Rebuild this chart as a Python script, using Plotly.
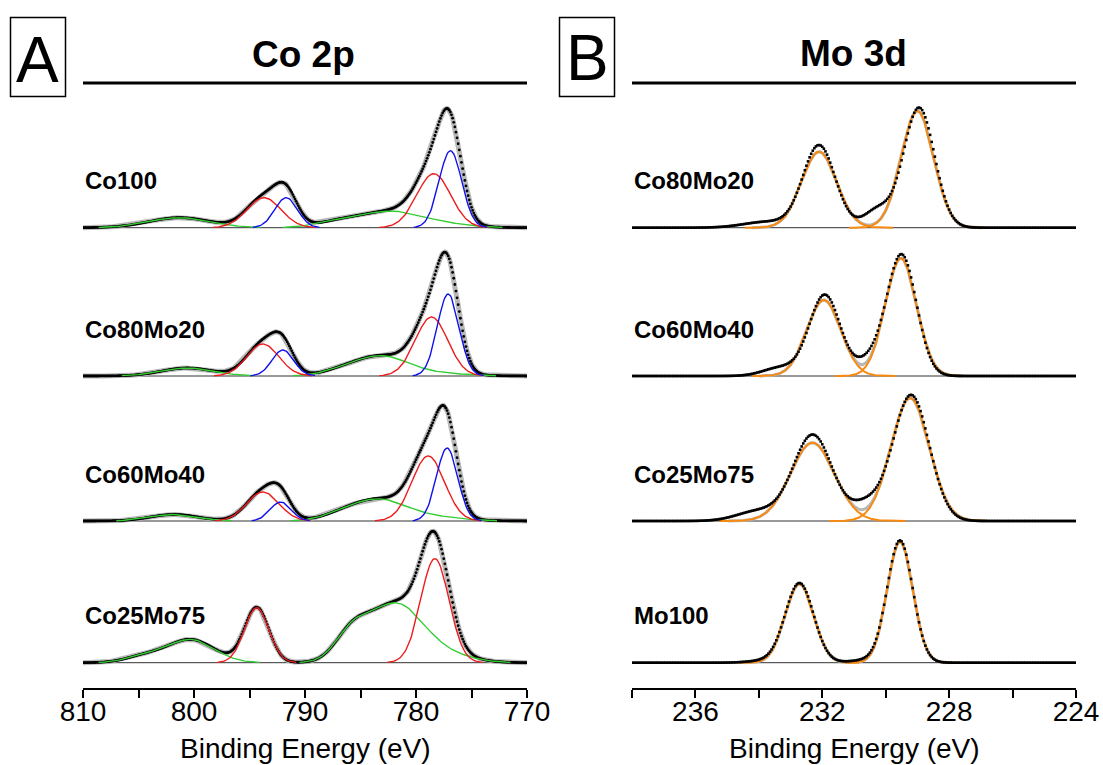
import numpy as np
import plotly.graph_objects as go

W, H = 1103, 765

# ---------------- data ----------------
# Co 2p fits: each peak = (binding energy eV, height a.u., FWHM eV)
co_labels = ["Co100", "Co80Mo20", "Co60Mo40", "Co25Mo75"]
co_red = [
    [(778.4, 54, 3.6), (793.7, 30, 3.6)],
    [(778.6, 59, 3.45), (793.8, 32, 3.4)],
    [(778.9, 65, 3.45), (793.8, 29, 3.4)],
    [(778.3, 104, 3.0), (794.35, 55, 2.6)],
]
co_blue = [
    [(776.9, 77, 2.4), (791.7, 30, 2.4)],
    [(777.1, 82, 2.3), (792.0, 26, 2.3)],
    [(777.2, 73, 2.25), (792.2, 19, 2.2)],
    [],
]
co_green_2p32 = [
    [(782.3, 15, 6.0), (786.8, 6, 5.0), (778.0, 4, 6.0)],
    [(783.0, 19, 5.5), (786.5, 5, 4.5), (778.0, 2.5, 6.0)],
    [(783.2, 20, 5.5), (786.5, 6, 4.5), (778.5, 4, 6.0)],
    [(781.8, 59, 6.0), (785.8, 24, 3.5), (776.5, 5, 5.0)],
]
co_green_2p12 = [
    [(801.3, 10, 6.5)],
    [(800.6, 8, 5.5)],
    [(801.8, 6.5, 5.0)],
    [(800.3, 23, 5.0), (804.5, 6, 4.0)],
]

# Mo 3d: fitted doublet (orange) and measured spectrum shape
mo_labels = ["Co80Mo20", "Co60Mo40", "Co25Mo75", "Mo100"]
mo_fit = [
    [(229.0, 116.7, 1.2), (232.1, 76, 1.3)],
    [(229.52, 117.7, 1.16), (231.95, 76, 1.26)],
    [(229.23, 123, 1.42), (232.31, 78.3, 1.63)],
    [(229.55, 121, 0.95), (232.72, 78.7, 1.05)],
]
mo_measured = [
    [(228.95, 120, 1.15), (232.1, 82, 1.2), (230.25, 18, 1.0), (233.7, 6, 1.8)],
    [(229.5, 121, 1.1), (231.92, 81, 1.15), (230.5, 14, 1.0), (233.3, 8.5, 1.3)],
    [(229.2, 126, 1.35), (232.3, 86, 1.45), (230.6, 16, 1.1), (234.0, 10, 1.6)],
    [(229.55, 122, 0.95), (232.72, 79.5, 1.05), (230.6, 2.5, 1.2), (233.8, 2, 1.2)],
]

co_range = [810, 770]
mo_range = [238, 224]

# ---------------- layout helpers ----------------
offsets = [460.3, 312, 167, 25.3]   # vertical stacking (px above axis)
FONT = "Liberation Sans, Arial, sans-serif"
C_RED, C_BLUE, C_GREEN = "#ee1c1c", "#1010ee", "#33cc33"
C_GRAY, C_ORANGE = "#b8b8b8", "#f98a10"


def gauss(x, peaks):
    y = np.zeros_like(x)
    for c, h, w in peaks:
        y = y + h * np.exp(-4 * np.log(2) * ((x - c) / w) ** 2)
    return y


fig = go.Figure()

# ---------------- Panel A: Co 2p ----------------
xa = np.arange(770, 810.0001, 0.1)
for i in range(4):
    off = offsets[i]
    red = [gauss(xa, [p]) for p in co_red[i]]
    blue = [gauss(xa, [p]) for p in co_blue[i]]
    g32 = gauss(xa, co_green_2p32[i])
    g12 = gauss(xa, co_green_2p12[i])
    env = g32 + g12 + sum(red) + (sum(blue) if blue else 0)
    fig.add_trace(go.Scatter(x=[810, 770], y=[off, off], mode="lines",
                             line=dict(color="#333333", width=1), xaxis="x", yaxis="y",
                             hoverinfo="skip", showlegend=False))
    fig.add_trace(go.Scatter(x=xa, y=env + off, mode="lines",
                             line=dict(color=C_GRAY, width=5), xaxis="x", yaxis="y",
                             showlegend=False))
    fig.add_trace(go.Scatter(x=xa, y=env + off, mode="markers",
                             marker=dict(color="black", size=2.8), xaxis="x", yaxis="y",
                             showlegend=False))
    comps = [(g32, C_GREEN), (g12, C_GREEN)] + [(r, C_RED) for r in red] + [(b, C_BLUE) for b in blue]
    for comp, col in comps:
        m = comp > 0.3
        fig.add_trace(go.Scatter(x=xa[m], y=comp[m] + off, mode="lines",
                                 line=dict(color=col, width=1.4), xaxis="x", yaxis="y",
                                 showlegend=False))

# ---------------- Panel B: Mo 3d ----------------
xb = np.arange(224, 238.0001, 0.05)
xf = np.arange(224, 238.0001, 0.01)
for i in range(4):
    off = offsets[i]
    env = gauss(xf, mo_fit[i])
    meas = gauss(xb, mo_measured[i])
    fig.add_trace(go.Scatter(x=[238, 224], y=[off, off], mode="lines",
                             line=dict(color="#333333", width=1), xaxis="x2", yaxis="y2",
                             hoverinfo="skip", showlegend=False))
    m_env = env > 0.05
    fig.add_trace(go.Scatter(x=xf[m_env], y=env[m_env] + off, mode="lines",
                             line=dict(color=C_GRAY, width=3), xaxis="x2", yaxis="y2",
                             showlegend=False))
    for p in mo_fit[i]:
        c, h, w = p
        m = np.abs(xf - c) <= 1.8 * w
        comp = gauss(xf[m], [p])
        fig.add_trace(go.Scatter(x=xf[m], y=comp + off, mode="lines",
                                 line=dict(color=C_ORANGE, width=2), xaxis="x2", yaxis="y2",
                                 showlegend=False))
    fig.add_trace(go.Scatter(x=xb, y=meas + off, mode="markers",
                             marker=dict(symbol="square", size=2.6, color="black",
                                         line=dict(width=0)),
                             xaxis="x2", yaxis="y2", showlegend=False))


def px_x(p):
    return p / W


def px_y(p):
    return 1 - p / H


axis_common = dict(showline=True, linewidth=2, linecolor="black", ticks="outside",
                   ticklen=8, tickwidth=2, tickcolor="black", showgrid=False,
                   zeroline=False, automargin=False, ticklabelstandoff=-11,
                   tickfont=dict(family=FONT, size=28, color="black"))

fig.update_layout(
    width=W, height=H, margin=dict(l=0, r=0, t=0, b=0),
    paper_bgcolor="white", plot_bgcolor="white",
    xaxis=dict(domain=[px_x(83), px_x(527)], range=co_range, anchor="y",
               tick0=770, dtick=10,
               minor=dict(dtick=5, ticks="outside", ticklen=8, tickwidth=2, tickcolor="black"),
               **axis_common),
    yaxis=dict(domain=[77 / H, 1], range=[0, 688], visible=False, anchor="x"),
    xaxis2=dict(domain=[px_x(632), px_x(1076)], range=mo_range, anchor="y2",
                tick0=224, dtick=4,
                minor=dict(dtick=2, ticks="outside", ticklen=8, tickwidth=2, tickcolor="black"),
                **axis_common),
    yaxis2=dict(domain=[77 / H, 1], range=[0, 688], visible=False, anchor="x2"),
    showlegend=False,
)

shapes = []
for x0, x1 in [(83, 527), (632, 1076)]:
    shapes.append(dict(type="line", xref="paper", yref="paper", x0=px_x(x0), x1=px_x(x1),
                       y0=px_y(83), y1=px_y(83), line=dict(color="black", width=3)))
for x0, x1 in [(10.5, 65.5), (559.5, 614.5)]:
    shapes.append(dict(type="rect", xref="paper", yref="paper", x0=px_x(x0), x1=px_x(x1),
                       y0=px_y(17.5), y1=px_y(96.5), line=dict(color="black", width=1.5)))
fig.update_layout(shapes=shapes)

ann = []
ann.append(dict(text="A", x=px_x(37), y=px_y(60), xref="paper", yref="paper",
                showarrow=False, xanchor="center", yanchor="middle",
                font=dict(family=FONT, size=64, color="black")))
ann.append(dict(text="B", x=px_x(587.5), y=px_y(58), xref="paper", yref="paper",
                showarrow=False, xanchor="center", yanchor="middle",
                font=dict(family=FONT, size=64, color="black")))
ann.append(dict(text="<b>Co 2p</b>", x=px_x(303.5), y=px_y(54.5), xref="paper", yref="paper",
                showarrow=False, xanchor="center", yanchor="middle",
                font=dict(family=FONT, size=37, color="black")))
ann.append(dict(text="<b>Mo 3d</b>", x=px_x(853), y=px_y(54), xref="paper", yref="paper",
                showarrow=False, xanchor="center", yanchor="middle",
                font=dict(family=FONT, size=37, color="black")))
for cx in [305, 854]:
    ann.append(dict(text="Binding Energy (eV)", x=px_x(cx), y=px_y(748), xref="paper",
                    yref="paper", showarrow=False, xanchor="center", yanchor="middle",
                    font=dict(family=FONT, size=28, color="black")))
for i in range(4):
    ann.append(dict(text="<b>%s</b>" % co_labels[i], x=810, y=offsets[i] + 47, xref="x",
                    yref="y", showarrow=False, xanchor="left", yanchor="middle",
                    font=dict(family=FONT, size=24, color="black")))
    ann.append(dict(text="<b>%s</b>" % mo_labels[i], x=238, y=offsets[i] + 47, xref="x2",
                    yref="y2", showarrow=False, xanchor="left", yanchor="middle",
                    font=dict(family=FONT, size=24, color="black")))
fig.update_layout(annotations=ann)

fig.write_html("out.html", config={"displayModeBar": False},
               post_script="document.body.style.margin='0';")
